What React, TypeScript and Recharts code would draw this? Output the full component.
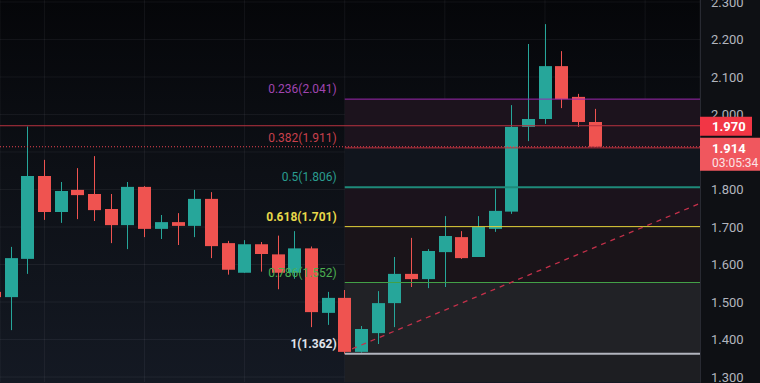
import React from 'react'
import {
  ComposedChart, Bar, XAxis, YAxis, CartesianGrid, ReferenceLine, ReferenceArea
} from 'recharts'

// candle index, one per bar
const idx = [0, 1, 2, 3, 4, 5, 6, 7, 8, 9, 10, 11, 12, 13, 14, 15, 16, 17, 18, 19, 20, 21, 22, 23, 24, 25, 26, 27, 28, 29, 30, 31, 32, 33, 34, 35, 36]
const opens = [1.527, 1.513, 1.615, 1.836, 1.740, 1.799, 1.788, 1.748, 1.705, 1.807, 1.695, 1.713, 1.703, 1.775, 1.657, 1.578, 1.654, 1.627, 1.578, 1.643, 1.471, 1.511, 1.367, 1.417, 1.497, 1.575, 1.561, 1.633, 1.673, 1.620, 1.695, 1.741, 1.967, 1.988, 2.129, 2.047, 1.980]
const highs = [1.532, 1.647, 1.968, 1.879, 1.820, 1.857, 1.889, 1.788, 1.820, 1.809, 1.732, 1.737, 1.799, 1.793, 1.663, 1.665, 1.660, 1.677, 1.689, 1.648, 1.527, 1.532, 1.436, 1.529, 1.620, 1.671, 1.641, 1.729, 1.689, 1.729, 1.801, 2.025, 2.188, 2.241, 2.169, 2.055, 2.015]
const lows = [1.510, 1.425, 1.575, 1.719, 1.711, 1.721, 1.716, 1.657, 1.641, 1.673, 1.668, 1.652, 1.673, 1.617, 1.573, 1.578, 1.581, 1.534, 1.562, 1.433, 1.439, 1.362, 1.365, 1.388, 1.433, 1.540, 1.537, 1.540, 1.615, 1.620, 1.687, 1.735, 1.929, 1.975, 2.017, 1.967, 1.914]
const closes = [1.513, 1.617, 1.836, 1.740, 1.796, 1.785, 1.745, 1.705, 1.807, 1.695, 1.713, 1.703, 1.775, 1.649, 1.586, 1.654, 1.628, 1.578, 1.643, 1.473, 1.511, 1.367, 1.428, 1.497, 1.575, 1.561, 1.636, 1.676, 1.617, 1.700, 1.743, 1.967, 1.988, 2.129, 2.041, 1.980, 1.914]

const fibRatios = ['0.236', '0.382', '0.5', '0.618', '0.786', '1']
const fibPrices = [2.041, 1.911, 1.806, 1.701, 1.552, 1.362]
const fibLine = ['#9c27b0', '#c0303e', '#1e8a7a', '#e5d33a', '#43a047', '#b2b5be']
const fibText = ['#a045b0', '#c8404c', '#2a9d8f', '#e8d84a', '#4caf50', '#e0e3eb']
const fibZone = ['#1c131d', '#11151d', '#1b131c', '#1a1419', '#212226', '#1d1e22']

// 1.900 sits under the live price tag, so it is left out
const priceTicks = [1.3, 1.4, 1.5, 1.6, 1.7, 1.8, 2.0, 2.1, 2.2, 2.3]
const gridTicks = [1.3, 1.4, 1.5, 1.6, 1.7, 1.8, 1.9, 2.0, 2.1, 2.2, 2.3]
const gridX = [3, 9, 15, 21, 27, 33, 39]

const lastLine = 1.970
const curPrice = 1.914
const timer = '03:05:34'
const trendFrom = { i: 21.44, p: 1.375 }
const trendTo = { i: 42.29, p: 1.763 }

const UP = '#26a69a'
const DOWN = '#ef5350'
const X_DOMAIN = [0.3408, 42.29]
const Y_DOMAIN = [1.28667, 2.30533]

const data = idx.map((i, k) => ({
  i,
  range: [lows[k], highs[k]],
  open: opens[k],
  high: highs[k],
  low: lows[k],
  close: closes[k],
}))

const Candle = (props: any) => {
  const { x, y, width, height, payload } = props
  const { open, close, high, low } = payload
  const color = close >= open ? UP : DOWN
  const h = Math.abs(height)
  const top0 = Math.min(y, y + height)
  const per = h / (high - low)
  const yOf = (v: number) => top0 + (high - v) * per
  const cx = Math.round(x + width / 2)
  const bt = yOf(Math.max(open, close))
  const bb = yOf(Math.min(open, close))
  return (
    <g>
      <line x1={cx + 0.5} x2={cx + 0.5} y1={top0} y2={top0 + h} stroke={color} strokeWidth={1} />
      <rect x={cx - 6} y={bt} width={13} height={Math.max(1, bb - bt)} fill={color} />
    </g>
  )
}

const fibLabel = (k: number) => (p: any) => {
  const vb = p.viewBox || {}
  return (
    <text x={vb.x - 8} y={vb.y - 6} textAnchor="end" fontSize={12}
      fontFamily="Roboto, sans-serif" fill={fibText[k]}
      fontWeight={k === 3 || k === 5 ? 700 : 400}>
      {fibRatios[k]}({fibPrices[k].toFixed(3)})
    </text>
  )
}

const lastTag = (p: any) => {
  const vb = p.viewBox || {}
  const x0 = vb.x + vb.width
  return (
    <g>
      <rect x={x0} y={vb.y - 9} width={52} height={19} fill="#f23645" />
      <text x={x0 + 12} y={vb.y + 5} fontSize={13} fontWeight={700} fill="#fff"
        fontFamily="Roboto, sans-serif">{lastLine.toFixed(3)}</text>
    </g>
  )
}

const curTag = (p: any) => {
  const vb = p.viewBox || {}
  const x0 = vb.x + vb.width
  return (
    <g>
      <rect x={x0} y={vb.y - 9} width={70} height={33} fill="#f0575e" />
      <text x={x0 + 12} y={vb.y + 6} fontSize={13} fontWeight={700} fill="#fff"
        fontFamily="Roboto, sans-serif">{curPrice.toFixed(3)}</text>
      <text x={x0 + 12} y={vb.y + 20} fontSize={12} fill="#fbe4e6"
        fontFamily="Roboto, sans-serif">{timer}</text>
    </g>
  )
}

export default function App() {
  return (
    <div style={{ position: 'absolute', left: 0, top: 0, width: 760, height: 383, overflow: 'hidden' }}>
      <div style={{
        position: 'absolute', left: 0, top: 0, width: 700, height: 383,
        background: 'linear-gradient(180deg, #050609 0%, #0d1016 45%, #141923 100%)'
      }} />
      <div style={{
        position: 'absolute', left: 700, top: 0, width: 60, height: 383,
        background: '#0e1014', borderLeft: '1px solid #22252d', boxSizing: 'border-box'
      }} />

      {/* main chart: grid, fib zones, candles */}
      <div style={{ position: 'absolute', left: 0, top: 0 }}>
        <ComposedChart width={760} height={383} data={data}
          margin={{ top: 0, right: 0, left: 0, bottom: 1 }}>
          <CartesianGrid stroke="rgba(240,243,250,0.06)"
            horizontalValues={gridTicks} />
          <XAxis dataKey="i" type="number" domain={X_DOMAIN} allowDataOverflow
            ticks={gridX} hide />
          <YAxis orientation="right" width={60} domain={Y_DOMAIN} allowDataOverflow
            ticks={priceTicks} interval={0} tickFormatter={(v: number) => v.toFixed(3)}
            axisLine={false} tickLine={false} tickMargin={5}
            tick={{ fill: '#b2b5be', fontSize: 13, fontFamily: 'Roboto, sans-serif' }} />

          {fibPrices.map((p, k) => (
            <ReferenceArea key={'z' + k} x1={21} x2={45}
              y1={p} y2={k < fibPrices.length - 1 ? fibPrices[k + 1] : 1.2}
              fill={fibZone[k]} fillOpacity={1} stroke="none" ifOverflow="hidden" />
          ))}
          {fibPrices.map((p, k) => (
            <ReferenceLine key={'f' + k} segment={[{ x: 21, y: p }, { x: 42.29, y: p }]}
              stroke={fibLine[k]} strokeWidth={k === 2 || k === 5 ? 2 : 1}
              ifOverflow="hidden" label={fibLabel(k)} />
          ))}

          <ReferenceLine segment={[{ x: trendFrom.i, y: trendFrom.p }, { x: trendTo.i, y: trendTo.p }]}
            stroke="#c4304a" strokeWidth={1.3} strokeDasharray="5 5" ifOverflow="hidden" />

          <Bar dataKey="range" barSize={12} shape={Candle} isAnimationActive={false} />

          <ReferenceLine y={lastLine} stroke="#b8323f" strokeWidth={1} />
          <ReferenceLine y={curPrice} stroke="#e8434f" strokeWidth={1} strokeDasharray="1 2" />
        </ComposedChart>
      </div>

      {/* overlay chart: price tags on top of the axis labels */}
      <div style={{ position: 'absolute', left: 0, top: 0, pointerEvents: 'none' }}>
        <ComposedChart width={760} height={383} data={data}
          margin={{ top: 0, right: 0, left: 0, bottom: 1 }}>
          <XAxis dataKey="i" type="number" domain={X_DOMAIN} allowDataOverflow hide />
          <YAxis orientation="right" width={60} domain={Y_DOMAIN} allowDataOverflow
            tick={false} axisLine={false} tickLine={false} />
          <ReferenceLine y={lastLine} stroke="none" strokeOpacity={0} label={lastTag} />
          <ReferenceLine y={curPrice} stroke="none" strokeOpacity={0} label={curTag} />
        </ComposedChart>
      </div>
    </div>
  )
}
